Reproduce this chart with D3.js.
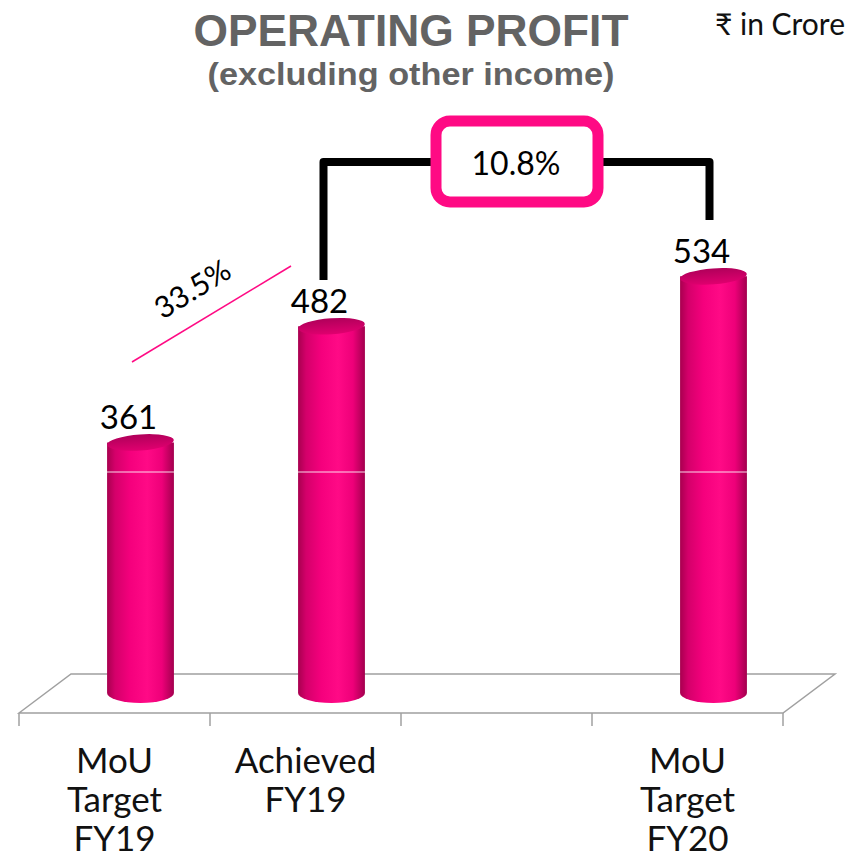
<!DOCTYPE html>
<html>
<head>
<meta charset="utf-8">
<script src="https://cdn.jsdelivr.net/npm/d3@7"></script>
<style>
  body { margin: 0; background: #fff; }
  svg { display: block; }
</style>
</head>
<body>
<div id="chart"></div>
<script>
// chart data
const categories = [["MoU", "Target", "FY19"], ["Achieved", "FY19"], [""], ["MoU", "Target", "FY20"]];
const values = [361, 482, null, 534];
const growthLeft = "33.5%";
const growthRight = "10.8%";

const W = 849, H = 860;
const svg = d3.select('#chart').append('svg')
    .attr('width', W)
    .attr('height', H);

const defs = svg.append('defs');
const grad = defs.append('linearGradient').attr('id', 'barGrad')
    .attr('x1', '0%').attr('x2', '100%').attr('y1', '0%').attr('y2', '0%');
[[0, '#a8004f'], [0.12, '#d4006a'], [0.35, '#f5007d'], [0.6, '#ff0a86'], [0.82, '#ee0079'], [1, '#a3004e']]
    .forEach(s => grad.append('stop').attr('offset', s[0]).attr('stop-color', s[1]));
const topGrad = defs.append('linearGradient').attr('id', 'topGrad')
    .attr('x1', '0%').attr('x2', '0%').attr('y1', '0%').attr('y2', '100%');
[[0, '#b0005a'], [1, '#e0006f']]
    .forEach(s => topGrad.append('stop').attr('offset', s[0]).attr('stop-color', s[1]));

// floor / scales
const frontY = 713, backY = 674, depthX = 52;
const x = d3.scaleBand()
    .domain(d3.range(categories.length))
    .range([19, 783]);
const y = d3.scaleLinear()
    .domain([100, 600])
    .range([693, 213]);

// floor plane
svg.append('path')
    .attr('d', `M${x.range()[0]},${frontY} L${x.range()[0] + depthX},${backY} L${x.range()[1] + depthX},${backY} L${x.range()[1]},${frontY} Z`)
    .attr('fill', 'none')
    .attr('stroke', '#a0a0a0')
    .attr('stroke-width', 1.5);

// axis ticks at the band edges
const ticks = x.domain().map(i => x(i)).concat([x.range()[1]]);
svg.selectAll('.tick-line')
    .data(ticks)
    .enter().append('line')
    .attr('class', 'tick-line')
    .attr('x1', d => d).attr('x2', d => d)
    .attr('y1', frontY).attr('y2', frontY + 13)
    .attr('stroke', '#a0a0a0')
    .attr('stroke-width', 1.5);

// cylinders
const barW = x.bandwidth() * 0.35;
const ry = 8;
const bars = values.map((v, i) => ({ v: v, i: i })).filter(d => d.v !== null);
const cx = d => x(d.i) + x.bandwidth() / 2 + depthX / 2;

const g = svg.selectAll('.bar')
    .data(bars)
    .enter().append('g')
    .attr('class', 'bar');

g.append('path')
    .attr('d', d => {
        const l = cx(d) - barW / 2, r = cx(d) + barW / 2;
        const top = y(d.v), base = y(100);
        return `M${l},${top} L${l},${base} A${barW / 2},${ry + 2} 0 0 0 ${r},${base} L${r},${top} Z`;
    })
    .attr('fill', 'url(#barGrad)');

g.append('ellipse')
    .attr('cx', cx)
    .attr('cy', d => y(d.v))
    .attr('rx', barW / 2)
    .attr('ry', ry)
    .attr('transform', d => `rotate(-4 ${cx(d)} ${y(d.v)})`)
    .attr('fill', 'url(#topGrad)');

// faint grid line crossing the bars
svg.append('line')
    .attr('x1', 0).attr('x2', W)
    .attr('y1', 472).attr('y2', 472)
    .attr('stroke', '#fff')
    .attr('stroke-opacity', 0.85)
    .attr('stroke-width', 1);

// value labels
svg.selectAll('.val')
    .data(bars)
    .enter().append('text')
    .attr('class', 'val')
    .attr('x', d => cx(d) - 12)
    .attr('y', d => y(d.v) - 13)
    .attr('text-anchor', 'middle')
    .style('font-family', 'Lato, sans-serif')
    .style('font-size', '33px')
    .text(d => d.v);

// category labels
const cat = svg.selectAll('.cat')
    .data(categories)
    .enter().append('text')
    .attr('class', 'cat')
    .attr('x', (d, i) => x(i) + x.bandwidth() / 2)
    .attr('y', 773)
    .attr('text-anchor', 'middle')
    .style('font-family', 'Lato, sans-serif')
    .style('font-size', '35px')
    .style('fill', '#111');
cat.selectAll('tspan')
    .data(d => d)
    .enter().append('tspan')
    .attr('x', function () { return d3.select(this.parentNode).attr('x'); })
    .attr('dy', (d, j) => j === 0 ? 0 : 39)
    .text(d => d);

// 33.5% growth line
svg.append('line')
    .attr('x1', 132).attr('y1', 362)
    .attr('x2', 291).attr('y2', 266)
    .attr('stroke', '#ff0a84')
    .attr('stroke-width', 1.5);
svg.append('text')
    .attr('transform', 'translate(198,298) rotate(-32)')
    .attr('text-anchor', 'middle')
    .style('font-family', 'Lato, sans-serif')
    .style('font-size', '30px')
    .text(growthLeft);

// 10.8% bracket
const b1 = cx(bars[1]) - 8, b2 = cx(bars[2]) - 4;
svg.append('path')
    .attr('d', `M${b1},280 L${b1},162 L${b2},162 L${b2},220`)
    .attr('fill', 'none')
    .attr('stroke', '#000')
    .attr('stroke-width', 8)
    .attr('stroke-linejoin', 'round');
svg.append('rect')
    .attr('x', 436).attr('y', 121)
    .attr('width', 162).attr('height', 81)
    .attr('rx', 14)
    .attr('fill', '#fff')
    .attr('stroke', '#ff0a84')
    .attr('stroke-width', 11);
svg.append('text')
    .attr('x', 516).attr('y', 175)
    .attr('text-anchor', 'middle')
    .style('font-family', 'Lato, sans-serif')
    .style('font-size', '32px')
    .text(growthRight);

// titles
svg.append('text')
    .attr('x', 411).attr('y', 46)
    .attr('text-anchor', 'middle')
    .attr('textLength', 435)
    .attr('lengthAdjust', 'spacingAndGlyphs')
    .style('font-family', '"Liberation Sans", Arial, sans-serif')
    .style('font-weight', 'bold')
    .style('font-size', '44px')
    .style('fill', '#636363')
    .text('OPERATING PROFIT');
svg.append('text')
    .attr('x', 411).attr('y', 85)
    .attr('text-anchor', 'middle')
    .attr('textLength', 407)
    .attr('lengthAdjust', 'spacingAndGlyphs')
    .style('font-family', '"Liberation Sans", Arial, sans-serif')
    .style('font-weight', 'bold')
    .style('font-size', '31px')
    .style('fill', '#636363')
    .text('(excluding other income)');
svg.append('text')
    .attr('x', 845).attr('y', 35)
    .attr('text-anchor', 'end')
    .style('font-family', 'Lato, "Noto Sans", sans-serif')
    .style('font-size', '30px')
    .style('fill', '#111')
    .text('₹ in Crore');
</script>
</body>
</html>
